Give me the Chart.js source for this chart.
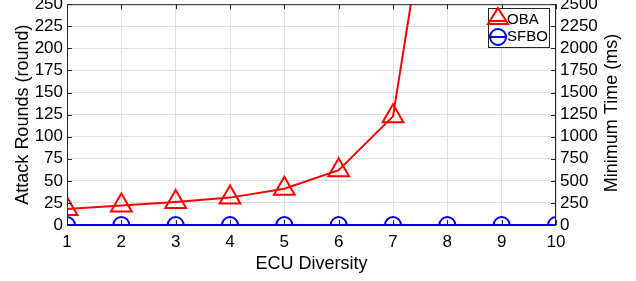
<!DOCTYPE html>
<html lang="en">
<head>
    <meta charset="UTF-8">
    <title>Attack Rounds vs ECU Diversity</title>
    <style>
        body { margin: 0; padding: 0; background: #fff; overflow: hidden; }
        .wrap { width: 636px; height: 281px; overflow: hidden; }
        /* el lienzo sube 10px para que la etiqueta 250 quede cortada como en el original */
        #chart { display: block; margin-top: -10px; }
    </style>
</head>
<body>
    <div class="wrap"><canvas id="chart" width="636" height="291"></canvas></div>

    <script src="https://cdn.jsdelivr.net/npm/chart.js"></script>
    <script>
        // datos
        const diversity = [1, 2, 3, 4, 5, 6, 7, 8, 9, 10];
        const obaRounds = [18, 22, 26, 31, 41, 62, 123, 510, null, null];
        const sfboTime = [0, 0, 0, 0, 0, 0, 0, 0, 0, 0];
        const roundTicks = [0, 25, 50, 75, 100, 125, 150, 175, 200, 225, 250];
        const timeTicks = [0, 250, 500, 750, 1000, 1250, 1500, 1750, 2000, 2250, 2500];

        const FONT = 'Liberation Sans, Arial, sans-serif';
        const SHIFT = 10;

        // marco negro con marcas hacia dentro + leyenda + titulo derecho
        const framePlugin = {
            id: 'frame',
            afterDraw(chart) {
                const { ctx, chartArea: a, scales } = chart;
                ctx.save();
                ctx.strokeStyle = '#262626';
                ctx.lineWidth = 1;
                ctx.strokeRect(a.left + 0.5, a.top + 0.5, a.right - a.left - 1, a.bottom - a.top);
                ctx.beginPath();
                diversity.forEach(v => {
                    const x = Math.round(scales.x.getPixelForValue(v)) + 0.5;
                    ctx.moveTo(x, a.top); ctx.lineTo(x, a.top + 5);
                    ctx.moveTo(x, a.bottom); ctx.lineTo(x, a.bottom - 5);
                });
                roundTicks.forEach(v => {
                    const y = Math.round(scales.y.getPixelForValue(v)) + 0.5;
                    ctx.moveTo(a.left, y); ctx.lineTo(a.left + 5, y);
                });
                timeTicks.forEach(v => {
                    const y = Math.round(scales.y1.getPixelForValue(v)) + 0.5;
                    ctx.moveTo(a.right, y); ctx.lineTo(a.right - 5, y);
                });
                ctx.stroke();

                ctx.translate(0, SHIFT);
                // leyenda dentro del area
                const bx = 488, by = 8, bw = 61, bh = 39;
                ctx.fillStyle = '#fff';
                ctx.fillRect(bx, by, bw, bh);
                ctx.strokeStyle = '#262626';
                ctx.strokeRect(bx + 0.5, by + 0.5, bw, bh);
                ctx.lineWidth = 2;
                ctx.strokeStyle = '#ff0000';
                ctx.beginPath(); ctx.moveTo(489, 21); ctx.lineTo(507, 21); ctx.stroke();
                ctx.beginPath();
                ctx.moveTo(498, 8); ctx.lineTo(508, 24); ctx.lineTo(488, 24); ctx.closePath(); ctx.stroke();
                ctx.strokeStyle = '#0000ff';
                ctx.beginPath(); ctx.moveTo(489, 37); ctx.lineTo(507, 37); ctx.stroke();
                ctx.beginPath(); ctx.arc(498, 37, 8, 0, Math.PI * 2); ctx.stroke();
                ctx.fillStyle = '#000';
                ctx.font = '15px ' + FONT;
                ctx.textBaseline = 'middle';
                ctx.fillText('OBA', 507, 20);
                ctx.fillText('SFBO', 507, 37);

                // titulo del eje derecho, de abajo hacia arriba
                ctx.translate(612, 113);
                ctx.rotate(-Math.PI / 2);
                ctx.font = '18px ' + FONT;
                ctx.textAlign = 'center';
                ctx.fillText('Minimum Time (ms)', 0, 0);
                ctx.restore();
            }
        };

        const tickFont = { family: FONT, size: 17 };
        const titleFont = { family: FONT, size: 18 };

        new Chart(document.getElementById('chart'), {
            type: 'line',
            data: {
                datasets: [{
                    label: 'OBA',
                    data: diversity.map((d, i) => ({ x: d, y: obaRounds[i] })),
                    yAxisID: 'y',
                    borderColor: '#ff0000',
                    borderWidth: 2,
                    pointStyle: 'triangle',
                    pointRadius: 12,
                    pointBorderWidth: 2,
                    pointBorderColor: '#ff0000',
                    pointBackgroundColor: 'rgba(0,0,0,0)',
                    tension: 0,
                    fill: false
                }, {
                    label: 'SFBO',
                    data: diversity.map((d, i) => ({ x: d, y: sfboTime[i] })),
                    yAxisID: 'y1',
                    borderColor: '#0000ff',
                    borderWidth: 2,
                    pointStyle: 'circle',
                    pointRadius: 8,
                    pointBorderWidth: 2,
                    pointBorderColor: '#0000ff',
                    pointBackgroundColor: 'rgba(0,0,0,0)',
                    fill: false
                }]
            },
            options: {
                responsive: false,
                animation: false,
                layout: { padding: 0 },
                plugins: { legend: { display: false }, tooltip: { enabled: false } },
                scales: {
                    x: {
                        type: 'linear',
                        min: 1, max: 10,
                        afterBuildTicks: s => { s.ticks = diversity.map(v => ({ value: v })); },
                        afterFit: s => { s.height = 56; },
                        grid: { color: '#dfdfdf', drawTicks: false },
                        border: { display: false },
                        ticks: { color: '#000', padding: 7, maxRotation: 0, autoSkip: false, font: tickFont },
                        title: { display: true, text: 'ECU Diversity', color: '#000', padding: { top: 0, bottom: 6 }, font: titleFont }
                    },
                    y: {
                        position: 'left',
                        min: 0, max: 250,
                        afterBuildTicks: s => { s.ticks = roundTicks.map(v => ({ value: v })); },
                        afterFit: s => { s.width = 67; },
                        grid: { color: '#dfdfdf', drawTicks: false },
                        border: { display: false },
                        ticks: { color: '#000', padding: 4, autoSkip: false, font: tickFont },
                        title: { display: true, text: 'Attack Rounds (round)', color: '#000', padding: { top: 12, bottom: 0 }, font: titleFont }
                    },
                    y1: {
                        position: 'right',
                        min: 0, max: 2500,
                        afterBuildTicks: s => { s.ticks = timeTicks.map(v => ({ value: v })); },
                        afterFit: s => { s.width = 80; },
                        grid: { display: false, drawTicks: false },
                        border: { display: false },
                        ticks: { color: '#000', padding: 4, autoSkip: false, font: tickFont, callback: v => String(v) },
                        title: { display: false }
                    }
                }
            },
            plugins: [framePlugin]
        });
    </script>
</body>
</html>
